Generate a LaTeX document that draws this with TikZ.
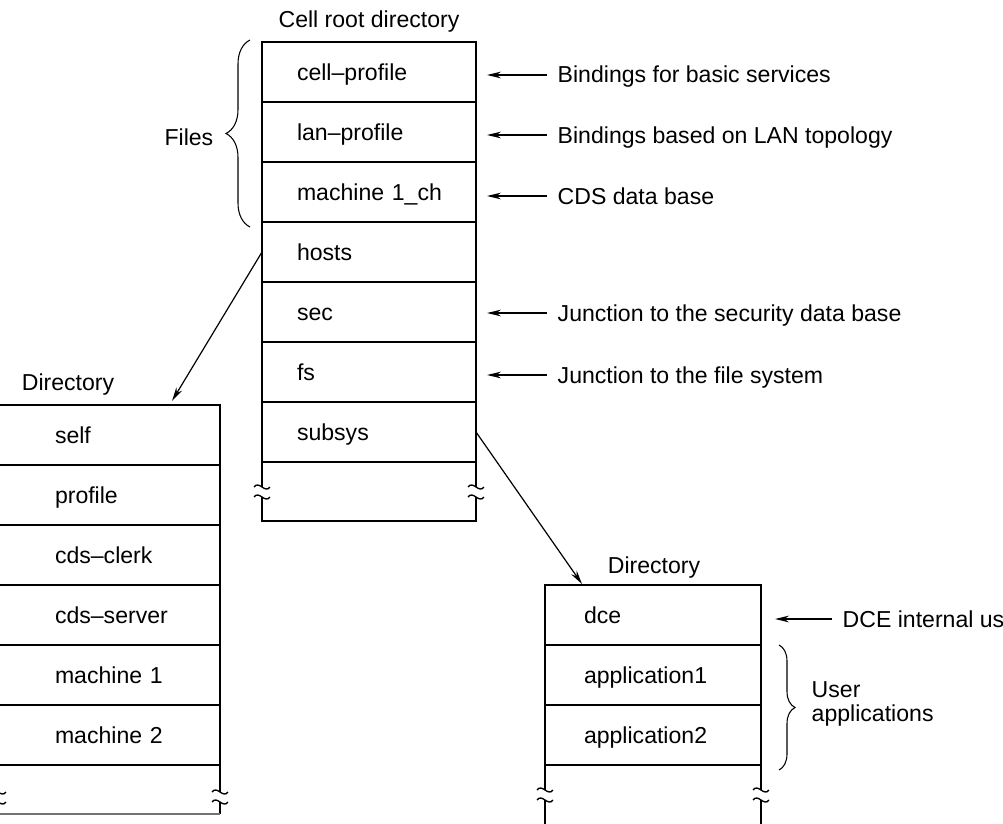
\documentclass[tikz,border=0pt]{standalone}
\usepackage{fontspec}
\setmainfont{Liberation Sans}
\usetikzlibrary{arrows.meta,decorations.pathreplacing,calc}
\newcommand{\figfont}{\fontsize{17.3}{17.5}\selectfont}
\begin{document}
\begin{tikzpicture}[x=0.75pt,y=-0.75pt,line width=1.1pt,
  every node/.append style={font=\figfont},
  rowbase/.style={draw, rectangle, anchor=north west, inner xsep=0pt, inner ysep=0pt, outer sep=0pt,
    minimum height=45pt, align=left, text height=12pt, text depth=0pt},
  mrow/.style={rowbase, text width=160.5pt, execute at begin node={\hspace*{26.25pt}}},
  lrow/.style={rowbase, text width=166.5pt, execute at begin node={\hspace*{42.75pt}}},
  rrow/.style={rowbase, text width=162pt, execute at begin node={\hspace*{29.25pt}}},
  note/.style={anchor=west, inner sep=0pt, text height=12pt, text depth=0pt},
  arr/.style={line width=0.9pt, -{Stealth[length=10.5pt,width=5pt]}},
  notearr/.style={arr, shorten <=7.5pt, shorten >=8.25pt},
  brk/.pic={\fill[white] (-8,-5) rectangle (8,5);
    \draw[line width=1pt] (-8,-5) .. controls (-3,-12) and (3,2) .. (8,-5);
    \draw[line width=1pt] (-8,5) .. controls (-3,-2) and (3,12) .. (8,5);},
  brc/.style={line width=0.8pt, decorate, decoration={brace, amplitude=#1}}
]
\useasboundingbox (0,0) rectangle (1003,824);
\clip (0,0) rectangle (1003,824);

% cell root directory
\node[anchor=base] (title) at (369,28) {Cell root directory};
\node[mrow] (m1) at (262,42) {cell–profile};
\node[mrow] (m2) at (m1.south west) {lan–profile};
\node[mrow] (m3) at (m2.south west) {machine 1\_ch};
\node[mrow] (m4) at (m3.south west) {hosts};
\node[mrow] (m5) at (m4.south west) {sec};
\node[mrow] (m6) at (m5.south west) {fs};
\node[mrow] (m7) at (m6.south west) {subsys};
\coordinate (mbl) at (262,521);
\coordinate (mbr) at (476,521);
\draw (m7.south west) -- (mbl) -- (mbr) -- (m7.south east);
\pic at (262,492) {brk};
\pic at (476,492) {brk};

% notes for the root directory
\node[note] (n1) at (557,75) {Bindings for basic services};
\node[note] (n2) at (557,135) {Bindings based on LAN topology};
\node[note] (n3) at (557,196) {CDS data base};
\node[note] (n5) at (557,313) {Junction to the security data base};
\node[note] (n6) at (557,375) {Junction to the file system};
\draw[notearr] (n1.west) -- (n1.west -| m1.east);
\draw[notearr] (n2.west) -- (n2.west -| m2.east);
\draw[notearr] (n3.west) -- (n3.west -| m3.east);
\draw[notearr] (n5.west) -- (n5.west -| m5.east);
\draw[notearr] (n6.west) -- (n6.west -| m6.east);

% Files brace
\draw[brc=18pt] (250,227) -- (250,40);
\node[note, anchor=east] (files) at (214,137) {Files};

% left directory
\node[anchor=base] (ldir) at (68,390) {Directory};
\node[lrow] (l1) at (-2,405) {self};
\node[lrow] (l2) at (l1.south west) {profile};
\node[lrow] (l3) at (l2.south west) {cds–clerk};
\node[lrow] (l4) at (l3.south west) {cds–server};
\node[lrow] (l5) at (l4.south west) {machine 1};
\node[lrow] (l6) at (l5.south west) {machine 2};
\coordinate (lbl) at (-2,814);
\coordinate (lbr) at (220,814);
\draw (l6.south west) -- (lbl);
\draw (l6.south east) -- (lbr);
\draw[black!55] (lbl) -- (lbr);
\pic at (-2,797) {brk};
\pic at (220,797) {brk};

% right directory
\node[anchor=base] (rdir) at (654,573) {Directory};
\node[rrow] (r1) at (545,585) {dce};
\node[rrow] (r2) at (r1.south west) {application1};
\node[rrow] (r3) at (r2.south west) {application2};
\coordinate (rbl) at (545,830);
\coordinate (rbr) at (761,830);
\draw (r3.south west) -- (rbl);
\draw (r3.south east) -- (rbr);
\pic at (545,795) {brk};
\pic at (761,795) {brk};

\node[note] (dcenote) at (842,619) {DCE internal us};
\draw[arr, shorten <=7.5pt, shorten >=10.5pt] (dcenote.west) -- (dcenote.west -| r1.east);
\draw[brc=12pt] (779,645) -- (779,770);
\node[anchor=west, align=left, inner sep=0pt] (users) at (811,704) {User\\applications};

% connectors
\coordinate (ltip) at (172,401);
\coordinate (rtip) at (582,584);
\draw[arr] (m4.west) -- (ltip);
\draw[arr] (m7.east) -- (rtip);
\end{tikzpicture}
\end{document}
